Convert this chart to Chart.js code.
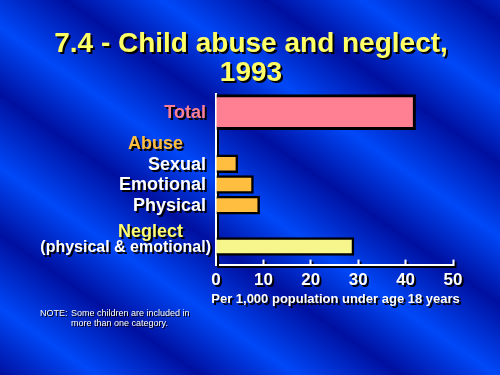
<!DOCTYPE html>
<html><head><meta charset="utf-8">
<script src="https://cdn.jsdelivr.net/npm/chart.js@4.4.1/dist/chart.umd.min.js"></script>
<style>
html,body{margin:0;padding:0;background:#0018b0;}
#wrap{position:relative;width:500px;height:375px;overflow:hidden;
background: repeating-linear-gradient(35deg, #0010a0 0px, #0048f8 55px, #0010a0 115px);}
canvas{position:absolute;left:0;top:0;}
</style></head><body>
<div id="wrap"><canvas id="c" width="500" height="375"></canvas></div>
<script>
// ---- data ----
const titleLines = ['7.4 - Child abuse and neglect,', '1993'];
const categories = ['Total', 'Sexual', 'Emotional', 'Physical', '(physical & emotional)'];
const groups = ['Total', 'Abuse', 'Abuse', 'Abuse', 'Neglect'];
const values = [42.1, 4.6, 7.9, 9.2, 29.1];
const groupHeaders = ['Abuse', 'Neglect'];
const xTicks = [0, 10, 20, 30, 40, 50];
const xTitle = 'Per 1,000 population under age 18 years';
const noteLabel = 'NOTE:';
const noteLines = ['Some children are included in', 'more than one category.'];

// ---- layout (row slots on the category axis) ----
const slotCount = 33;
const rowSlots = [3, 13, 17, 21, 29];
const headerSlots = [9, 26];

// ---- styles ----
const groupStyle = {
  Total:   {fill: '#ff8092', label: '#ff8092', thickness: 35, border: 3},
  Abuse:   {fill: '#ffbe40', label: '#ffffff', header: '#ffbe40', thickness: 18, border: 2.5},
  Neglect: {fill: '#f6f68c', label: '#ffffff', header: '#ffff70', thickness: 18, border: 2.5}
};
const FONT = 'Liberation Sans, Arial, Helvetica, sans-serif';
Chart.defaults.font.family = FONT;

const slotLabels = Array(slotCount).fill('');
categories.forEach((c, i) => { slotLabels[rowSlots[i]] = c; });
groupHeaders.forEach((h, i) => { slotLabels[headerSlots[i]] = h; });

const datasets = Object.keys(groupStyle).map(g => {
  const data = Array(slotCount).fill(null);
  categories.forEach((c, i) => { if (groups[i] === g) data[rowSlots[i]] = values[i]; });
  const st = groupStyle[g];
  return {label: g, data, backgroundColor: st.fill, borderColor: '#000', borderWidth: st.border,
          borderSkipped: 'start', barThickness: st.thickness, grouped: false};
});

const shadowPlugin = {
  id: 'shadow',
  beforeDraw(chart) {
    const ctx = chart.ctx; ctx.save();
    ctx.shadowColor = '#000'; ctx.shadowOffsetX = 2; ctx.shadowOffsetY = 2; ctx.shadowBlur = 0;
  },
  beforeDatasetsDraw(chart) { const ctx = chart.ctx; ctx.save(); ctx.shadowColor = 'rgba(0,0,0,0)'; },
  afterDatasetsDraw(chart) { chart.ctx.restore(); },
  afterDraw(chart) {
    const ctx = chart.ctx;
    const ys = chart.scales.y;
    const area = chart.chartArea;
    const left = area.left;
    ctx.textBaseline = 'middle';
    // title
    ctx.textAlign = 'center';
    ctx.font = 'bold 28px ' + FONT;
    ctx.fillStyle = '#ffff66';
    titleLines.forEach((t, i) => ctx.fillText(t, 251, 44 + i * 29));
    // axis title
    ctx.font = 'bold 13px ' + FONT;
    ctx.fillStyle = '#fff';
    ctx.fillText(xTitle, (area.left + area.right) / 2 + 1, 299);
    // category labels
    ctx.textAlign = 'right';
    categories.forEach((c, i) => {
      const y = ys.getPixelForValue(rowSlots[i]);
      const sub = c.startsWith('(');
      ctx.font = 'bold ' + (sub ? 16 : 18) + 'px ' + FONT;
      ctx.fillStyle = groupStyle[groups[i]].label;
      ctx.fillText(c, left - (sub ? 5 : 10), y + 1);
    });
    groupHeaders.forEach((h, i) => {
      const y = ys.getPixelForValue(headerSlots[i]);
      ctx.font = 'bold 18px ' + FONT;
      ctx.fillStyle = groupStyle[h].header;
      ctx.fillText(h, left - 33, y + 1);
    });
    // note
    ctx.shadowOffsetX = 1; ctx.shadowOffsetY = 1;
    ctx.font = '9px ' + FONT;
    ctx.textAlign = 'left';
    ctx.fillStyle = '#fff';
    ctx.fillText(noteLabel, 40, 314);
    noteLines.forEach((l, i) => ctx.fillText(l, 71, 314 + i * 10));
    ctx.restore();
  }
};

new Chart(document.getElementById('c'), {
  type: 'bar',
  data: {labels: slotLabels, datasets},
  options: {
    indexAxis: 'y', responsive: false, animation: false, devicePixelRatio: 1,
    layout: {padding: {left: 216, right: 47, top: 94, bottom: 73}},
    plugins: {legend: {display: false}, tooltip: {enabled: false}, title: {display: false}},
    scales: {
      x: {type: 'linear', min: 0, max: 50,
          afterBuildTicks: s => { s.ticks = xTicks.map(v => ({value: v})); },
          ticks: {color: '#fff', font: {size: 17, weight: 'bold'}, padding: 11, maxRotation: 0, autoSkip: false},
          grid: {drawOnChartArea: false, drawTicks: true, tickLength: -5, tickColor: '#fff', tickWidth: 2, color: '#fff'},
          border: {display: true, color: '#fff', width: 2}},
      y: {type: 'category', offset: true,
          ticks: {display: false}, grid: {display: false, drawTicks: false},
          border: {display: true, color: '#fff', width: 2}}
    }
  },
  plugins: [shadowPlugin]
});
</script>
</body></html>
